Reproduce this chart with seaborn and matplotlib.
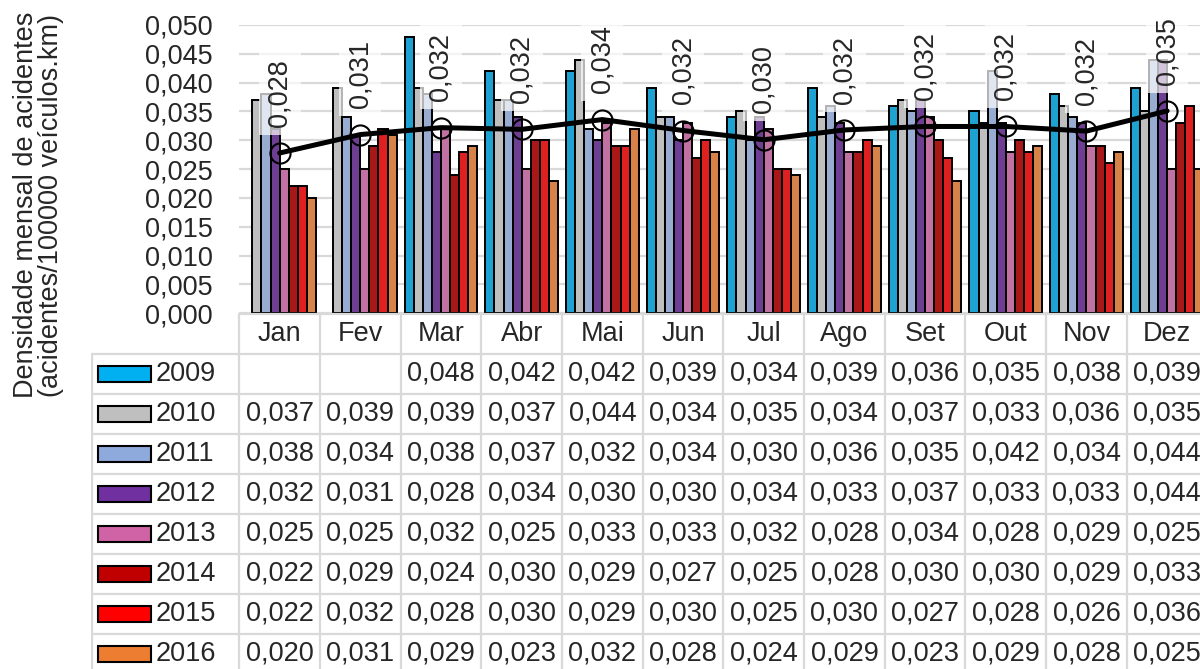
import numpy as np
import pandas as pd
import matplotlib
matplotlib.use("Agg")
import matplotlib.pyplot as plt
from matplotlib.patches import Rectangle
import seaborn as sns

months = ['Jan', 'Fev', 'Mar', 'Abr', 'Mai', 'Jun', 'Jul', 'Ago', 'Set', 'Out', 'Nov', 'Dez']
years = ['2009', '2010', '2011', '2012', '2013', '2014', '2015', '2016']
nan = np.nan
v2009 = [nan, nan, 0.048, 0.042, 0.042, 0.039, 0.034, 0.039, 0.036, 0.035, 0.038, 0.039]
v2010 = [0.037, 0.039, 0.039, 0.037, 0.044, 0.034, 0.035, 0.034, 0.037, 0.033, 0.036, 0.035]
v2011 = [0.038, 0.034, 0.038, 0.037, 0.032, 0.034, 0.030, 0.036, 0.035, 0.042, 0.034, 0.044]
v2012 = [0.032, 0.031, 0.028, 0.034, 0.030, 0.030, 0.034, 0.033, 0.037, 0.033, 0.033, 0.044]
v2013 = [0.025, 0.025, 0.032, 0.025, 0.033, 0.033, 0.032, 0.028, 0.034, 0.028, 0.029, 0.025]
v2014 = [0.022, 0.029, 0.024, 0.030, 0.029, 0.027, 0.025, 0.028, 0.030, 0.030, 0.029, 0.033]
v2015 = [0.022, 0.032, 0.028, 0.030, 0.029, 0.030, 0.025, 0.030, 0.027, 0.028, 0.026, 0.036]
v2016 = [0.020, 0.031, 0.029, 0.023, 0.032, 0.028, 0.024, 0.029, 0.023, 0.029, 0.028, 0.025]
media = [0.0278, 0.0310, 0.0322, 0.0319, 0.0336, 0.0317, 0.0301, 0.0318, 0.0324, 0.0324, 0.0316, 0.0351]
series = [v2009, v2010, v2011, v2012, v2013, v2014, v2015, v2016]
colors = ['#00B0F0', '#BFBFBF', '#8EA9DB', '#7030A0', '#CF63A6', '#C00000', '#FF0000', '#ED7D31']
yticks = [0.000, 0.005, 0.010, 0.015, 0.020, 0.025, 0.030, 0.035, 0.040, 0.045, 0.050]
ylabel = 'Densidade mensal de acidentes\n(acidentes/100000 veículos.km)'

sns.set_style('white')
plt.rcParams['font.family'] = ['Liberation Sans', 'DejaVu Sans']
FS = 19.5
GRID = '#D9D9D9'


def fmt(v):
    return '' if np.isnan(v) else f'{v:.3f}'.replace('.', ',')


rows = []
for y, vals in zip(years, series):
    for m, v in zip(months, vals):
        if not np.isnan(v):
            rows.append({'mes': m, 'ano': y, 'valor': v})
df = pd.DataFrame(rows)

W, H = 1200, 669
fig = plt.figure(figsize=(12, 6.69), dpi=100)
fig.patch.set_facecolor('white')

colw = 80.68
x0px = 239.3
# bar axes
ax = fig.add_axes([x0px / W, 1 - 313.3 / H, 12 * colw / W, (313.3 - 25) / H])
sns.barplot(data=df, x='mes', y='valor', hue='ano', order=months, hue_order=years,
            palette=colors, width=0.9, edgecolor='black', linewidth=1.4,
            errorbar=None, legend=False, ax=ax, zorder=2)
ax.set_xlim(-0.5, 11.5)
ax.set_ylim(0, 0.05)
ax.set_yticks(yticks)
ax.set_yticklabels([fmt(t) for t in yticks], fontsize=FS)
ax.set_xticks([])
ax.set_xlabel('')
ax.set_ylabel('')
ax.tick_params(axis='y', length=0, pad=19)
for s in ax.spines.values():
    s.set_visible(False)
ax.yaxis.grid(True, color=GRID, linewidth=1.6)
ax.set_axisbelow(True)

ax.plot(range(12), media, color='black', linewidth=3.6, zorder=5,
        marker='o', markersize=14.5, markerfacecolor='none',
        markeredgecolor='black', markeredgewidth=1.5)
for i, v in enumerate(media):
    ax.annotate(fmt(v), (i, v), xytext=(0, 19), textcoords='offset points',
                rotation=90, ha='center', va='bottom', fontsize=FS, zorder=6,
                annotation_clip=False,
                bbox=dict(boxstyle='square,pad=0.3', fc='white', ec='none', alpha=0.7))

# data table axes
left_px = 90.7
tx0 = (left_px - x0px) / colw - 0.5
rows_bottom = (H - 314) / 40.0
tax = fig.add_axes([left_px / W, 0, (x0px + 12 * colw - left_px) / W, (H - 314) / H])
tax.set_xlim(tx0, 11.5)
tax.set_ylim(rows_bottom, 0)
tax.axis('off')
lw = 1.6
tax.plot([-0.5, 11.5], [0, 0], color=GRID, lw=lw, clip_on=False)
for r in range(1, 9):
    tax.plot([tx0 + 0.01, 11.5], [r, r], color=GRID, lw=lw)
for k in range(13):
    tax.plot([k - 0.5, k - 0.5], [0, rows_bottom], color=GRID, lw=lw)
tax.plot([tx0 + 0.012, tx0 + 0.012], [1, rows_bottom], color=GRID, lw=lw)

for i, m in enumerate(months):
    tax.text(i, 0.5, m, ha='center', va='center', fontsize=FS)
key_x = (98.3 - x0px) / colw - 0.5
key_w = 52.4 / colw
lab_x = (156 - x0px) / colw - 0.5
for r, (y, vals, c) in enumerate(zip(years, series, colors), start=1):
    tax.add_patch(Rectangle((key_x, r + 0.5 - 0.19), key_w, 0.38, facecolor=c,
                            edgecolor='black', linewidth=1.5))
    tax.text(lab_x, r + 0.5, y, ha='left', va='center', fontsize=FS)
    for i, v in enumerate(vals):
        tax.text(i, r + 0.5, fmt(v), ha='center', va='center', fontsize=FS)

fig.text(39 / W, 1 - 205 / H, ylabel, rotation=90, ha='center', va='center',
         fontsize=FS, linespacing=0.95, multialignment='center')

fig.savefig('out.png', dpi=100, facecolor='white')
